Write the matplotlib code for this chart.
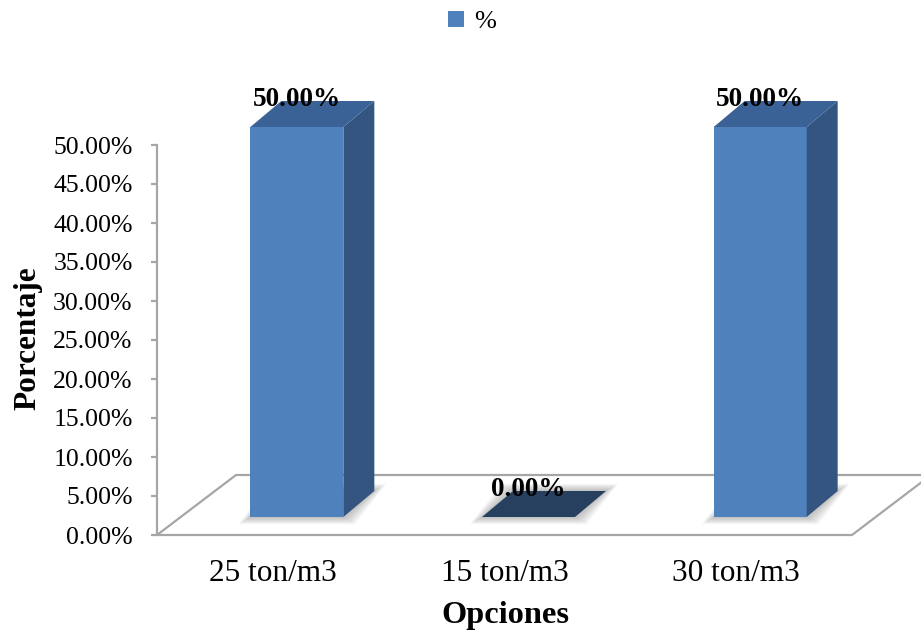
import numpy as np
import matplotlib
matplotlib.use('Agg')
import matplotlib.pyplot as plt
from matplotlib.patches import Polygon, Patch

plt.rcParams['font.family'] = ['Liberation Serif', 'DejaVu Serif']

# datos
categorias = ['25 ton/m3', '15 ton/m3', '30 ton/m3']
porcentajes = [50.0, 0.0, 50.0]
y_ticks = np.arange(0, 50.01, 5)

# colores de las caras
c_frente = '#4f81bd'
c_lado = '#34557f'
c_tapa = '#3b6296'
c_tapa_cero = '#27405f'
c_borde = '#a6a6a6'

fig = plt.figure(figsize=(9.21, 6.33), dpi=100)
ax = fig.add_axes([157 / 921, 98 / 633, 695 / 921, 390 / 633])
ax.set_xlim(-0.5, 2.5)
ax.set_ylim(0, 50)

# pixeles -> unidades de datos
sx = ax.bbox.width / 3
sy = ax.bbox.height / 50

# piso en perspectiva
fdx, fdy = 79 / sx, 60 / sy
piso = Polygon([(-0.5, 0), (2.5, 0), (2.5 + fdx, fdy), (-0.5 + fdx, fdy)],
               closed=True, fc='white', ec=c_borde, lw=1.6, clip_on=False, zorder=1)
ax.add_patch(piso)

# geometria de las barras
w = 93 / sx
fx, fy = 24 / sx, 18 / sy
ddx, ddy = 31 / sx, 26 / sy

for i, v in enumerate(porcentajes):
    x0 = i + fx - w / 2
    x1 = i + fx + w / 2
    # sombra difusa alrededor de la base
    for k in range(12, 0, -1):
        ex, ey = k / sx, k * 0.6 / sy
        base = [(x0 - ex, fy - ey), (x1 + ex, fy - ey),
                (x1 + ddx + ex, fy + ddy + ey), (x0 + ddx - ex, fy + ddy + ey)]
        ax.add_patch(Polygon(base, closed=True, fc='#606060', ec='none',
                             alpha=0.035, clip_on=False, zorder=2))
    y1 = fy + v
    if v > 0:
        ax.bar(i + fx, v, w, bottom=fy, color=c_frente, zorder=4, clip_on=False)
        lado = [(x1, fy), (x1 + ddx, fy + ddy), (x1 + ddx, y1 + ddy), (x1, y1)]
        ax.add_patch(Polygon(lado, closed=True, fc=c_lado, ec='none',
                             clip_on=False, zorder=4))
        color_tapa = c_tapa
    else:
        color_tapa = c_tapa_cero
    tapa = [(x0, y1), (x1, y1), (x1 + ddx, y1 + ddy), (x0 + ddx, y1 + ddy)]
    ax.add_patch(Polygon(tapa, closed=True, fc=color_tapa, ec='none',
                         clip_on=False, zorder=4))
    ax.annotate(f'{v:.2f}%', (i + fx, y1), xytext=(0, 19.5), textcoords='offset points',
                ha='center', va='center', fontsize=19.5, fontweight='bold',
                zorder=6, annotation_clip=False)

# ejes
for s in ['top', 'right', 'bottom']:
    ax.spines[s].set_visible(False)
ax.spines['left'].set_color(c_borde)
ax.spines['left'].set_linewidth(1.6)
ax.set_yticks(y_ticks)
ax.set_yticklabels([f'{t:.2f}%' for t in y_ticks])
ax.tick_params(axis='y', colors=c_borde, labelcolor='black', length=4.5,
               width=1.6, labelsize=18.5, pad=13)
ax.set_xticks(range(len(categorias)))
ax.set_xticklabels(categorias)
ax.tick_params(axis='x', length=0, labelsize=22.5, pad=17.5)

fig.text(28 / 921, 1 - 338 / 633, 'Porcentaje', rotation=90, ha='center',
         va='center', fontsize=22.5, fontweight='bold')
fig.text(505 / 921, 1 - 615 / 633, 'Opciones', ha='center', va='center',
         fontsize=23.3, fontweight='bold')

fig.legend(handles=[Patch(fc=c_frente)], labels=['%'], loc='center',
           bbox_to_anchor=(472 / 921, 1 - 22 / 633), frameon=False,
           fontsize=19, handlelength=0.6, handleheight=0.6, handletextpad=0.4)

fig.savefig('out.png', dpi=100)
